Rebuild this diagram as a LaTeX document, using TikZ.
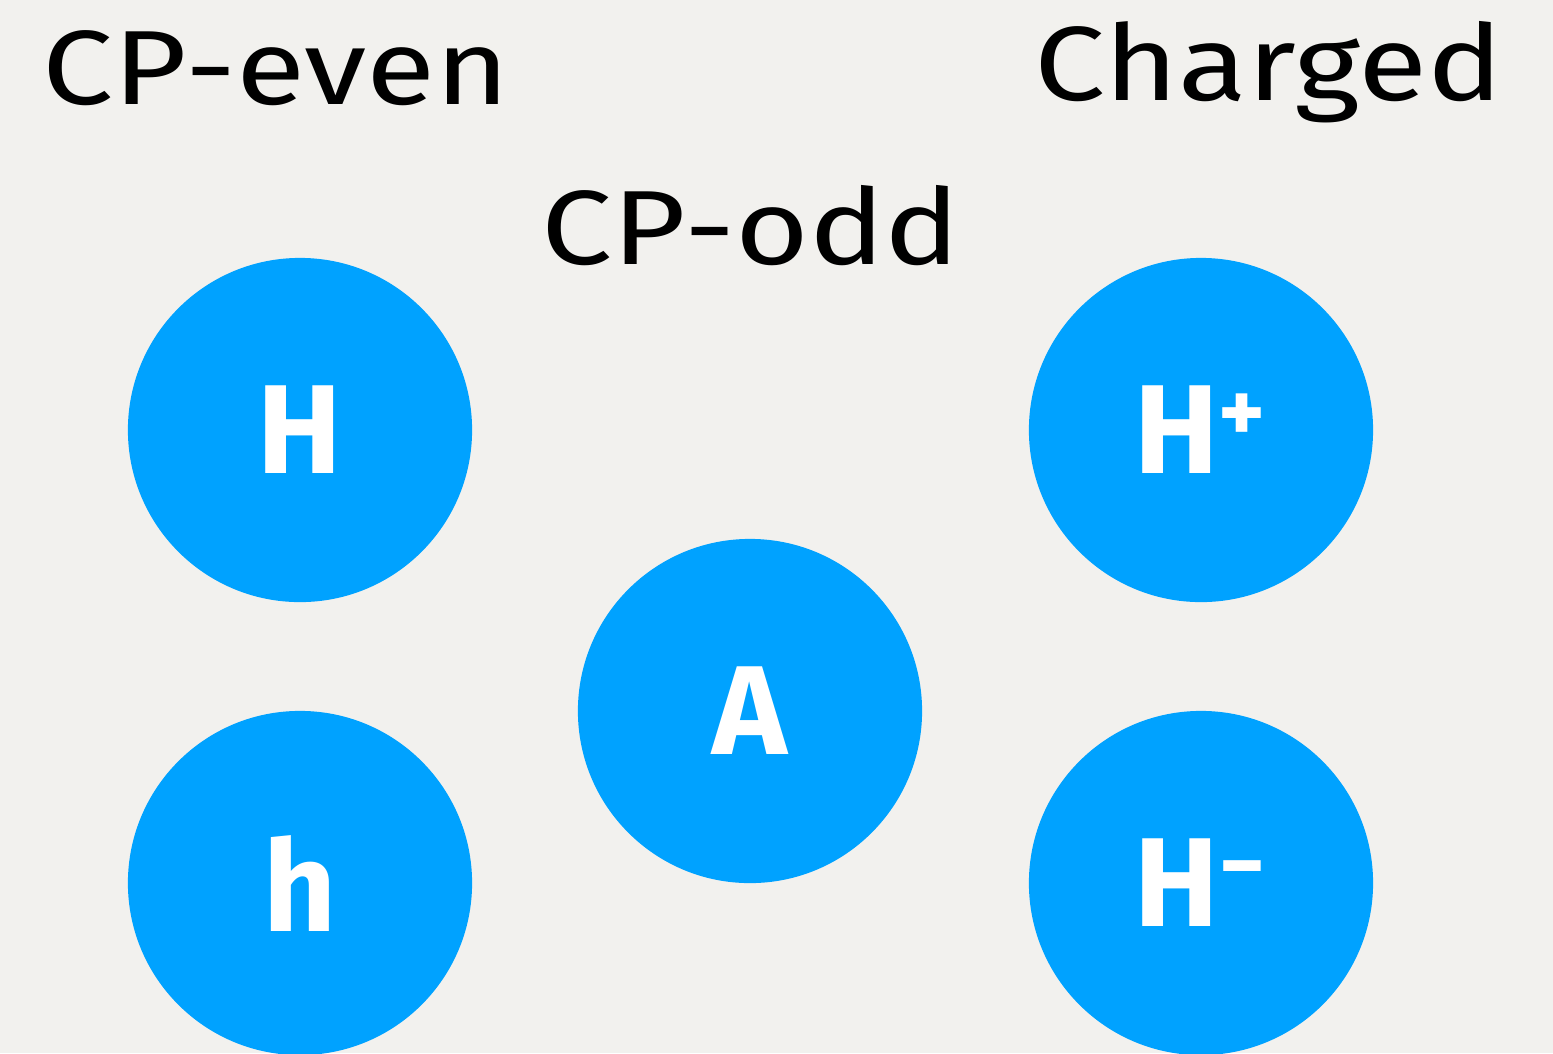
\documentclass[tikz,border=0pt]{standalone}
\usepackage{fontspec}
\setmainfont{Fira Sans}
\definecolor{bg}{HTML}{F2F1EE}
\definecolor{ball}{HTML}{00A2FF}
\begin{document}
\begin{tikzpicture}[x=0.01cm,y=-0.01cm,
  ball/.style={circle,fill=ball,minimum size=3.44cm,inner sep=0pt,text=white,font=\fontsize{36}{40}\selectfont\bfseries},
  title/.style={text=black,font=\fontsize{30}{34}\selectfont,inner sep=0pt,xscale=1.2,transform shape}]
\fill[bg] (0,0) rectangle (1553,1053);
\useasboundingbox (0,0) rectangle (1553,1053);
\begin{scope}
\clip (0,0) rectangle (1553,1053);
\node[ball] (Hh) at (300,430) {H};
\node[ball] (hl) at (300,883) {h};
\node[ball] (A) at (750,711) {A};
\node[ball] (Hp) at (1201,430) {H\textsuperscript{+}};
\node[ball] (Hm) at (1201,883) {H\textsuperscript{−}};
\end{scope}
\node[title] (even) at (276,68) {CP-even};
\node[title] (odd) at (751,226) {CP-odd};
\node[title] (chg) at (1269,72) {Charged};
\end{tikzpicture}
\end{document}
